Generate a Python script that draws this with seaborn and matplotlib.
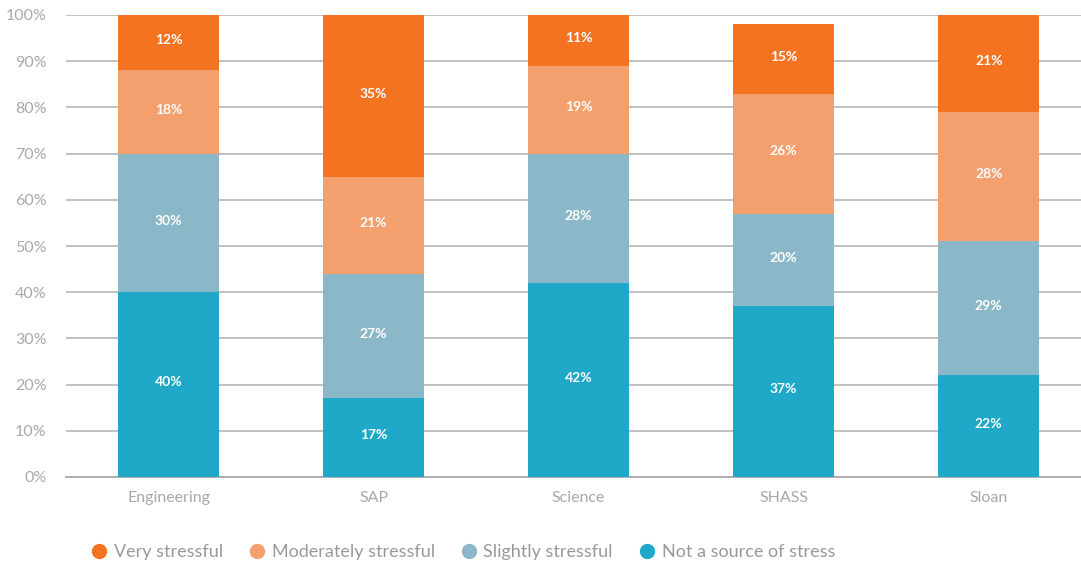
import numpy as np
import matplotlib
matplotlib.use("Agg")
import matplotlib.pyplot as plt
from matplotlib.lines import Line2D
import seaborn as sns

# Data
schools = ["Engineering", "SAP", "Science", "SHASS", "Sloan"]
not_a_source = [40, 17, 42, 37, 22]
slightly = [30, 27, 28, 20, 29]
moderately = [18, 21, 19, 26, 28]
very = [12, 35, 11, 15, 21]

series_names = ["Not a source of stress", "Slightly stressful",
                "Moderately stressful", "Very stressful"]
series_values = [not_a_source, slightly, moderately, very]
colors = ["#1FA8C8", "#8BB8C8", "#F39F6E", "#F37321"]

sns.set_style("white")
plt.rcParams["font.family"] = ["Lato", "DejaVu Sans"]

fig = plt.figure(figsize=(10.81, 5.64), dpi=100)
ax = fig.add_axes([66 / 1081, 87 / 564, 1 - 66 / 1081, 462 / 564])

bottom = np.zeros(len(schools))
for name, vals, col in zip(series_names, series_values, colors):
    sns.barplot(x=schools, y=vals, bottom=bottom, color=col, width=0.49,
                saturation=1, linewidth=0, edgecolor=col, ax=ax, zorder=3)
    for i, v in enumerate(vals):
        ax.text(i, bottom[i] + v / 2 + 0.5, f"{v}%", ha="center", va="center",
                color="white", fontsize=10, fontweight="bold", zorder=4)
    bottom = bottom + np.array(vals)

ax.set_ylim(0, 100)
ax.set_xlim(-0.5, 4.45)
ax.set_yticks(range(0, 101, 10))
ax.set_yticklabels([f"{t}%" for t in range(0, 101, 10)])
ax.yaxis.grid(True, color="#BBBBBB", linewidth=1.3, zorder=0)
ax.set_axisbelow(True)
for s in ["top", "right", "left"]:
    ax.spines[s].set_visible(False)
ax.spines["bottom"].set_color("#AAAAAA")
ax.spines["bottom"].set_linewidth(1.3)
ax.tick_params(axis="both", length=0, labelsize=11.5, colors="#A8A8A8")
ax.tick_params(axis="x", pad=10)
ax.tick_params(axis="y", pad=14)
ax.set_xlabel("")
ax.set_ylabel("")

handles = [Line2D([0], [0], marker="o", linestyle="", markersize=10,
                  markerfacecolor=c, markeredgecolor=c)
           for c in colors[::-1]]
fig.legend(handles, series_names[::-1], loc="center left",
           bbox_to_anchor=(74 / 1081, 1 - 552 / 564), ncol=4, frameon=False,
           fontsize=13, labelcolor="#999999", handletextpad=0.3,
           columnspacing=1.4, handlelength=1.0)

fig.savefig("out.png", dpi=100)
